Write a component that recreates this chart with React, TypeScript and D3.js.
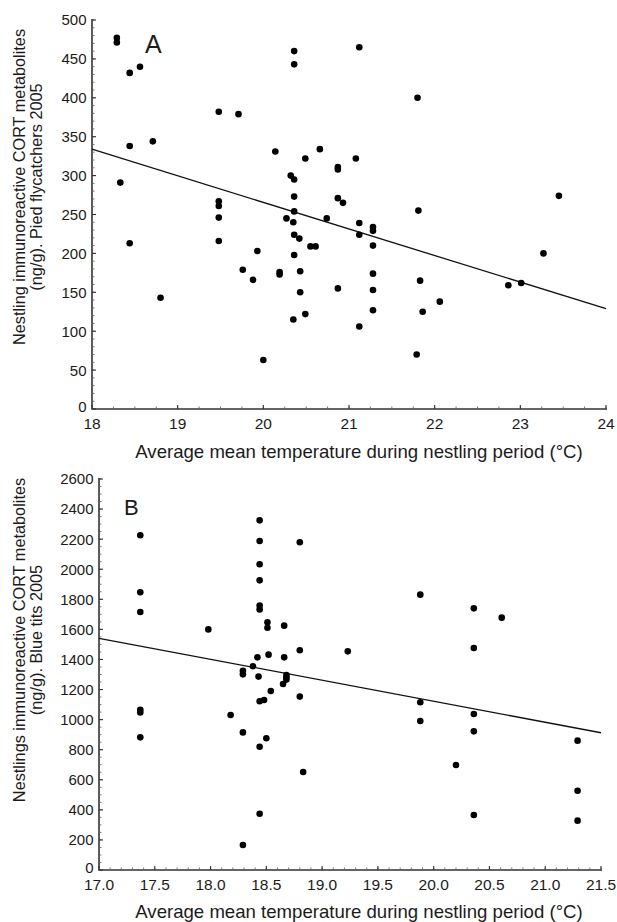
import * as d3 from 'd3';

/* ═══ data ═══ */
// Panel A: pied flycatchers 2005 — [temperature °C, CORT ng/g]
const pointsA: [number, number][] = [
  [18.29, 477], [18.29, 471], [18.33, 291], [18.44, 432], [18.44, 338], [18.44, 213],
  [18.56, 440], [18.71, 344], [18.80, 143],
  [19.48, 382], [19.48, 267], [19.48, 261], [19.48, 246], [19.48, 216],
  [19.71, 379], [19.76, 179], [19.88, 166], [19.93, 203], [20.0, 63],
  [20.14, 331], [20.19, 176], [20.19, 173], [20.27, 245],
  [20.32, 300], [20.36, 295], [20.35, 240], [20.36, 460], [20.36, 443], [20.36, 273],
  [20.36, 254], [20.36, 224], [20.36, 198], [20.35, 115],
  [20.42, 219], [20.43, 177], [20.43, 150], [20.49, 322], [20.49, 122], [20.55, 209],
  [20.61, 209], [20.66, 334], [20.74, 245],
  [20.87, 311], [20.87, 308], [20.87, 271], [20.87, 155], [20.93, 265],
  [21.08, 322], [21.12, 465], [21.12, 239], [21.12, 224], [21.12, 106],
  [21.28, 234], [21.28, 229], [21.28, 210], [21.28, 174], [21.28, 153], [21.28, 127],
  [21.79, 70], [21.80, 400], [21.81, 255], [21.83, 165], [21.86, 125], [22.06, 138],
  [22.86, 159], [23.01, 162], [23.27, 200], [23.45, 274],
];
const fitA = [949, -34.17]; // intercept, slope

// Panel B: blue tits 2005
const pointsB: [number, number][] = [
  [17.37, 2226], [17.37, 1847], [17.37, 1716], [17.37, 1065], [17.37, 1048], [17.37, 882],
  [17.98, 1600], [18.18, 1031],
  [18.29, 1325], [18.29, 1301], [18.29, 915], [18.29, 166],
  [18.38, 1355], [18.42, 1414], [18.43, 1286],
  [18.44, 2325], [18.44, 2188], [18.44, 2033], [18.44, 1926], [18.44, 1758], [18.44, 1733],
  [18.44, 1122], [18.44, 820], [18.44, 374],
  [18.48, 1130], [18.50, 876], [18.51, 1647], [18.51, 1611], [18.52, 1432], [18.54, 1190],
  [18.65, 1237], [18.66, 1625], [18.66, 1414],
  [18.68, 1296], [18.68, 1281], [18.68, 1266],
  [18.80, 2179], [18.80, 1461], [18.80, 1153], [18.83, 652],
  [19.23, 1454], [19.88, 1831], [19.88, 1115], [19.88, 991],
  [20.20, 698], [20.36, 1740], [20.36, 1476], [20.36, 1037], [20.36, 922], [20.36, 366],
  [20.61, 1678], [21.29, 860], [21.29, 527], [21.29, 328],
];
const fitB = [3914, -139.6];

const xTicksA = [18, 19, 20, 21, 22, 23, 24];
const yTicksA = [0, 50, 100, 150, 200, 250, 300, 350, 400, 450, 500];
const xTicksB = [17.0, 17.5, 18.0, 18.5, 19.0, 19.5, 20.0, 20.5, 21.0, 21.5];
const yTicksB = [0, 200, 400, 600, 800, 1000, 1200, 1400, 1600, 1800, 2000, 2200, 2400, 2600];

const FONT = 'Liberation Sans, Arial, Helvetica, sans-serif';
const INK = '#1b1b1b';
const X_TITLE = 'Average mean temperature during nestling period (°C)';

type PanelProps = {
  points: [number, number][];
  fit: number[];
  xDomain: [number, number];
  yDomain: [number, number];
  xTicks: number[];
  yTicks: number[];
  xMinorStep: number;
  yMinorStep: number;
  xFmt: (v: number) => string;
  box: { l: number; r: number; t: number; b: number };
  letter: string;
  letterPos: [number, number, number];
  yTitle: [string, string];
  yTitleCy: number;
  xTitleY: number;
};

function Panel(p: PanelProps) {
  const x = d3.scaleLinear().domain(p.xDomain).range([p.box.l, p.box.r]);
  const y = d3.scaleLinear().domain(p.yDomain).range([p.box.b, p.box.t]);
  const xMinor = d3.range(p.xDomain[0], p.xDomain[1] + 1e-9, p.xMinorStep);
  const yMinor = d3.range(p.yDomain[0], p.yDomain[1] + 1e-9, p.yMinorStep);
  const line = d3.line<number>().x(d => x(d)).y(d => y(p.fit[0] + p.fit[1] * d));

  return (
    <g fontFamily={FONT} fill={INK}>
      {/* axes */}
      <path
        d={`M${p.box.l},${p.box.t - 1}V${p.box.b}H${p.box.r + 1}`}
        fill="none" stroke="#333" strokeWidth={1.6}
      />
      {yMinor.map(v => (
        <line key={'ym' + v} x1={p.box.l} x2={p.box.l + 2.5} y1={y(v)} y2={y(v)} stroke="#666" strokeWidth={0.9} />
      ))}
      {xMinor.map(v => (
        <line key={'xm' + v} x1={x(v)} x2={x(v)} y1={p.box.b} y2={p.box.b - 2.5} stroke="#666" strokeWidth={0.9} />
      ))}
      {p.yTicks.map(v => (
        <g key={'y' + v}>
          <line x1={p.box.l} x2={p.box.l + 4} y1={y(v)} y2={y(v)} stroke="#333" strokeWidth={1.1} />
          <text x={p.box.l - 5.5} y={y(v)} dy={v === 0 ? '0.2em' : '0.36em'} textAnchor="end" fontSize={15}>{v}</text>
        </g>
      ))}
      {p.xTicks.map(v => (
        <g key={'x' + v}>
          <line x1={x(v)} x2={x(v)} y1={p.box.b} y2={p.box.b - 4} stroke="#333" strokeWidth={1.1} />
          <text x={x(v)} y={p.box.b + 19.5} textAnchor="middle" fontSize={15.5}>{p.xFmt(v)}</text>
        </g>
      ))}

      {/* regression line */}
      <path d={line(p.xDomain) || ''} fill="none" stroke="#111" strokeWidth={1.3} />

      {/* points */}
      {p.points.map((d, i) => (
        <circle key={i} cx={x(d[0])} cy={y(d[1])} r={3.3} fill="#000" />
      ))}

      <text x={p.letterPos[0]} y={p.letterPos[1]} fontSize={p.letterPos[2]}>{p.letter}</text>

      {/* titles */}
      <text x={359} y={p.xTitleY} textAnchor="middle" fontSize={18.6}>{X_TITLE}</text>
      <text transform={`translate(25,${p.yTitleCy}) rotate(-90)`} textAnchor="middle" fontSize={16.3}>
        {p.yTitle[0]}
      </text>
      <text transform={`translate(42,${p.yTitleCy}) rotate(-90)`} textAnchor="middle" fontSize={16.3}>
        {p.yTitle[1]}
      </text>
    </g>
  );
}

export default function App() {
  return (
    <svg width={617} height={922} style={{ position: 'absolute', left: 0, top: 0, background: '#fff' }}>
      <Panel
        points={pointsA}
        fit={fitA}
        xDomain={[18, 24]}
        yDomain={[0, 500]}
        xTicks={xTicksA}
        yTicks={yTicksA}
        xMinorStep={0.25}
        yMinorStep={10}
        xFmt={v => String(v)}
        box={{ l: 92, r: 606, t: 20, b: 409 }}
        letter="A"
        letterPos={[145, 53, 25]}
        yTitle={['Nestling immunoreactive CORT metabolites', '(ng/g). Pied flycatchers 2005']}
        yTitleCy={187}
        xTitleY={458}
      />
      <Panel
        points={pointsB}
        fit={fitB}
        xDomain={[17, 21.5]}
        yDomain={[0, 2600]}
        xTicks={xTicksB}
        yTicks={yTicksB}
        xMinorStep={0.1}
        yMinorStep={50}
        xFmt={v => v.toFixed(1)}
        box={{ l: 99, r: 601, t: 479, b: 870 }}
        letter="B"
        letterPos={[124, 515, 22]}
        yTitle={['Nestlings immunoreactive CORT metabolites', '(ng/g). Blue tits 2005']}
        yTitleCy={640}
        xTitleY={918}
      />
    </svg>
  );
}
